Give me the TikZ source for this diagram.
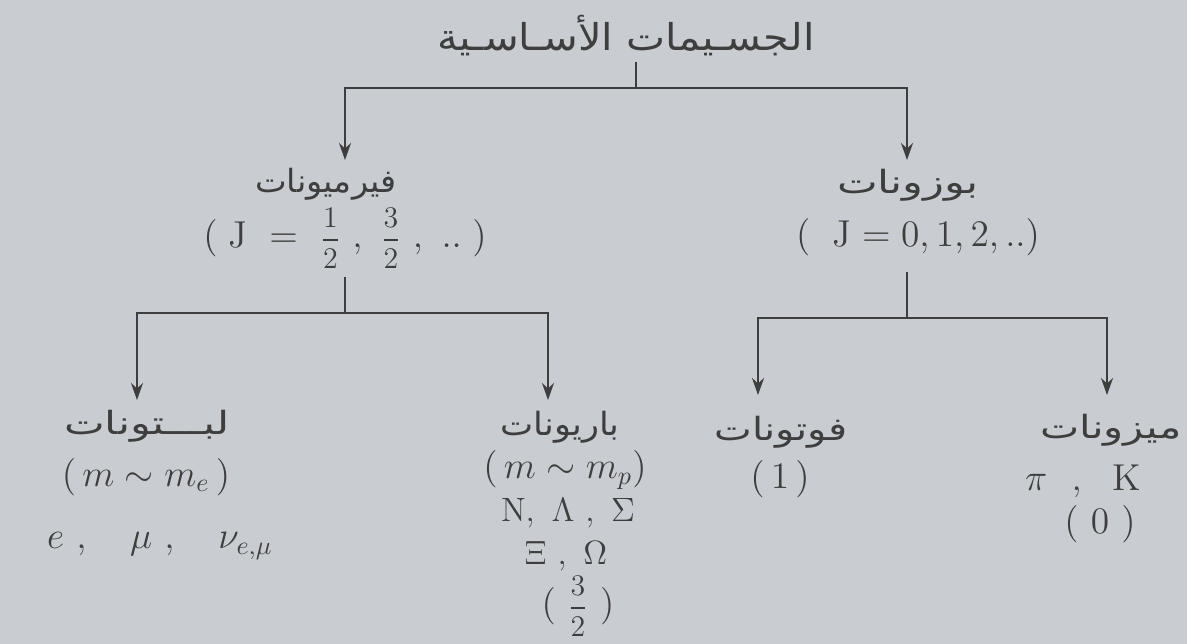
\documentclass[tikz,border=0pt]{standalone}
\usepackage{amsmath}
\usepackage{graphicx}
\usepackage{fontspec}
\newfontfamily\arabicfont[Script=Arabic]{DejaVu Sans}
\TeXXeTstate=1
\usetikzlibrary{arrows.meta}
\definecolor{paper}{HTML}{C9CDD1}
\definecolor{ink}{HTML}{3E3E3E}
\newcommand{\hfr}[2]{\vcenter{\hbox{\scalebox{0.8}{$\displaystyle\frac{#1}{#2}$}}}}
\begin{document}
\begin{tikzpicture}[x=1pt,y=-1pt,
  ar/.style={font=\arabicfont\fontsize{32}{36}\selectfont, text=ink, inner sep=2pt},
  mt/.style={font=\Large, scale=2.6, text=ink, inner sep=1pt},
  link/.style={draw=ink, line width=2.2pt},
  arr/.style={link, -{Stealth[length=17pt,width=12pt]}}]
\fill[paper] (0,0) rectangle (1187,644);
\useasboundingbox (0,0) rectangle (1187,644);

% root
\node[ar, font=\arabicfont\fontsize{37}{40}\selectfont, xscale=1.12] (root) at (626,36) {\beginR الجسـيمات الأسـاسـية\endR};
\coordinate (s0) at (636,62);
\coordinate (j0) at (636,88);
\coordinate (fa) at (345,160);
\coordinate (ba) at (907,160);
\draw[link] (s0) -- (j0);
\draw[arr] (j0) -| (fa);
\draw[arr] (j0) -| (ba);

% fermions
\node[ar, xscale=1.05] (ferm) at (326,184) {\beginR فيرميونات\endR};
\node[mt] (fermJ) at (345,238) {$(\;\mathrm{J}\ =\ \hfr{1}{2}\ ,\ \hfr{3}{2}\ ,\ ..\;)$};
\coordinate (fs) at (345,277);
\coordinate (j1) at (345,313);
\coordinate (la) at (137,400);
\coordinate (bra) at (548,400);
\draw[link] (fs) -- (j1);
\draw[arr] (j1) -| (la);
\draw[arr] (j1) -| (bra);

% bosons
\node[ar, xscale=1.35] (bos) at (908,185) {\beginR بوزونات\endR};
\node[mt] (bosJ) at (918,237) {$(\;\ \mathrm{J} = 0, 1, 2, ..)$};
\coordinate (bs) at (907,272);
\coordinate (j2) at (907,318);
\coordinate (pa) at (758,395);
\coordinate (ma) at (1107,395);
\draw[link] (bs) -- (j2);
\draw[arr] (j2) -| (pa);
\draw[arr] (j2) -| (ma);

% leptons
\node[ar, xscale=1.35] (lep) at (147,426) {\beginR لبـــتونات\endR};
\node[mt] (lepm) at (146,477) {$(\,m \sim m_e\,)$};
\node[mt] (lepl) at (160,546) {$e\ ,\quad \mu\ ,\quad \nu_{e,\mu}$};

% baryons
\node[ar, xscale=1.1] (bar) at (560,427) {\beginR باريونات\endR};
\node[mt] (barm) at (565,470) {$(\,m \sim m_p)$};
\node[mt, scale=0.9] (bar1) at (568,513) {$\mathrm{N},\ \Lambda\ ,\ \Sigma$};
\node[mt, scale=0.9] (bar2) at (566,556) {$\Xi\ ,\ \Omega$};
\node[mt] (bar3) at (578,606) {$(\ \hfr{3}{2}\ )$};

% photons
\node[ar, xscale=1.25] (pho) at (781,432) {\beginR فوتونات\endR};
\node[mt] (phom) at (780,479) {$(\,1\,)$};

% mesons
\node[ar, xscale=1.3] (mes) at (1111,430) {\beginR ميزونات\endR};
\node[mt] (mes1) at (1083,481) {$\pi\ \ ,\ \ \mathrm{K}$};
\node[mt] (mes2) at (1100,524) {$(\ 0\ )$};
\end{tikzpicture}
\end{document}
